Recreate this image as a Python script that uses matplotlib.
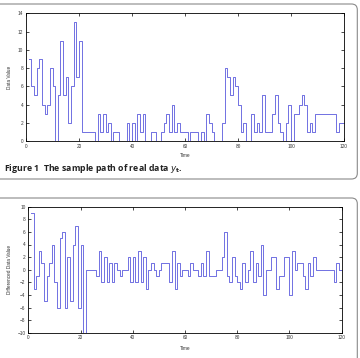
import numpy as np
import matplotlib.pyplot as plt
from matplotlib.patches import FancyBboxPatch

# sample path of the real data y_t, t = 1..120
time = np.arange(1, 121)
data_values = [9, 6, 5, 8, 9, 4, 3, 4, 8, 6,
               0, 5, 11, 5, 7, 2, 6, 13, 7, 11,
               1, 1, 1, 1, 1, 0, 3, 1, 3, 1,
               2, 0, 1, 1, 0, 0, 0, 2, 0, 2,
               0, 3, 1, 3, 0, 0, 1, 1, 0, 0,
               1, 2, 3, 1, 4, 1, 2, 1, 1, 1,
               0, 1, 1, 1, 0, 1, 0, 3, 2, 1,
               0, 0, 0, 2, 8, 7, 5, 7, 6, 4,
               1, 2, 0, 0, 3, 1, 2, 1, 5, 1,
               1, 1, 3, 5, 2, 1, 0, 2, 4, 0,
               3, 3, 4, 5, 4, 1, 2, 1, 3, 3,
               3, 3, 3, 3, 3, 3, 1, 2, 2, 6]

# differenced series
diff_values = [9, -3, -1, 3, 1, -5, -1, 1, 4, -2,
               -6, 5, 6, -6, 2, -5, 4, 7, -6, 4,
               -10, 0, 0, 0, 0, -1, 3, -2, 2, -2,
               1, -2, 1, 0, -1, 0, 0, 2, -2, 2,
               -2, 3, -2, 2, -3, 0, 1, 0, -1, 0,
               1, 1, 1, -2, 3, -3, 1, -1, 0, 0,
               -1, 1, 0, 0, -1, 1, -1, 3, -1, -1,
               -1, 0, 0, 2, 6, -1, -2, 2, -1, -2,
               -3, 1, -2, 0, 3, -2, 1, -1, 4, -4,
               0, 0, 2, 2, -3, -1, -1, 2, 2, -4,
               3, 0, 1, 1, -1, -3, 1, -1, 2, 0,
               0, 0, 0, 0, 0, 0, -2, 1, 0, 4]

line_col = '#7070e2'
tick_fs = 3.4

plt.rcParams['font.family'] = ['Liberation Sans', 'DejaVu Sans']

fig = plt.figure(figsize=(3.6, 3.58), dpi=100)
W, H = 360.0, 358.0


def axes_px(left, top, right, bottom):
    return fig.add_axes([left / W, 1 - bottom / H, (right - left) / W, (bottom - top) / H])


def style(ax):
    ax.tick_params(direction='in', length=2, width=0.5, labelsize=tick_fs,
                   top=True, right=True, pad=2, labelcolor='#333333')
    for s in ax.spines.values():
        s.set_linewidth(0.6)


# top panel
ax1 = axes_px(26, 13.3, 344, 141)
ax1.step(time, data_values, where='post', color=line_col, lw=0.7)
ax1.set_xlim(0, 120)
ax1.set_ylim(0, 14)
ax1.set_xticks(range(0, 121, 20))
ax1.set_yticks(range(0, 15, 2))
style(ax1)
ax1.set_ylabel('Data Value', fontsize=tick_fs, color='#333333')
ax1.yaxis.set_label_coords(-0.043, 0.5)
ax1.set_xlabel('Time', fontsize=tick_fs, color='#333333')
ax1.xaxis.set_label_coords(0.5, -0.092)

# bottom panel
ax2 = axes_px(28.3, 206.7, 341.7, 332.7)
ax2.step(time, diff_values, where='post', color=line_col, lw=0.7)
ax2.set_xlim(0, 120)
ax2.set_ylim(-10, 10)
ax2.set_xticks(range(0, 121, 20))
ax2.set_yticks(range(-10, 11, 2))
style(ax2)
ax2.set_ylabel('Differenced Data Value', fontsize=tick_fs, color='#333333')
ax2.yaxis.set_label_coords(-0.051, 0.5)
ax2.set_xlabel('Time', fontsize=tick_fs, color='#333333')
ax2.xaxis.set_label_coords(0.5, -0.103)

# caption
fig.text(4 / W, 1 - 168.3 / H,
         r'Figure 1  The sample path of real data $\mathbf{\mathit{y}_t}$.',
         fontsize=6.3, fontweight='bold', family='Open Sans', va='center', color='#222222')

# page frames round the figures
box1 = FancyBboxPatch((-0.05, 1 - 179 / H), 357.3 / W + 0.05, 175 / H,
                      boxstyle='round,pad=0,rounding_size=0.016',
                      transform=fig.transFigure, fill=False, ec='#8a8a8a', lw=0.8)
box2 = FancyBboxPatch((-0.05, -0.1), 357.3 / W + 0.05, 1 - 198 / H + 0.1,
                      boxstyle='round,pad=0,rounding_size=0.016',
                      transform=fig.transFigure, fill=False, ec='#8a8a8a', lw=0.8)
fig.add_artist(box1)
fig.add_artist(box2)

fig.savefig('out.png', dpi=100)
